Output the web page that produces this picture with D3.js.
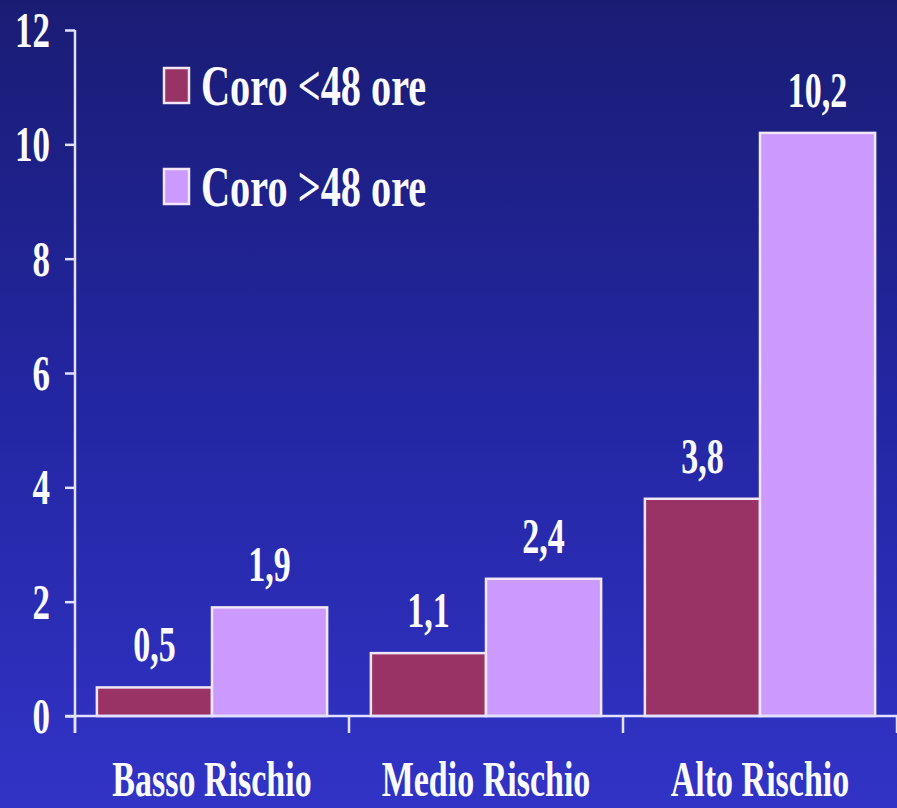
<!DOCTYPE html>
<html>
<head>
<meta charset="utf-8">
<script src="https://cdn.jsdelivr.net/npm/d3@7"></script>
<style>
html,body{margin:0;padding:0;background:#1c1e7a;}
svg{display:block;}
</style>
</head>
<body>
<svg id="chart" width="897" height="808"></svg>
<script>
const categories = ["Basso Rischio", "Medio Rischio", "Alto Rischio"];
const seriesNames = ["Coro <48 ore", "Coro >48 ore"];
const coroBefore48 = [0.5, 1.1, 3.8];
const coroAfter48 = [1.9, 2.4, 10.2];
const yTickValues = [0, 2, 4, 6, 8, 10, 12];
const seriesColors = ["#993366", "#cc99ff"];

const W = 897, H = 808;
const svg = d3.select("#chart");
const defs = svg.append("defs");
const grad = defs.append("linearGradient").attr("id", "bg").attr("x1", 0).attr("y1", 0).attr("x2", 0).attr("y2", 1);
grad.append("stop").attr("offset", "0%").attr("stop-color", "#1a1c74");
grad.append("stop").attr("offset", "50%").attr("stop-color", "#2326a2");
grad.append("stop").attr("offset", "100%").attr("stop-color", "#3133c6");
svg.append("rect").attr("width", W).attr("height", H).attr("fill", "url(#bg)");

const FONT = "'Liberation Serif','Times New Roman',serif";
const lineColor = "#e4e0ff";
const txtColor = "#fbfbff";

const x = d3.scaleBand().domain(categories).range([75, 897]).paddingInner(0).paddingOuter(0);
const xs = d3.scaleBand().domain(seriesNames).range([0, x.bandwidth()]).paddingInner(0).paddingOuter(0.19);
const y = d3.scaleLinear().domain([0, 12]).range([716, 30]);

const rows = categories.map((c, i) => ({cat: c, vals: [coroBefore48[i], coroAfter48[i]]}));
const fmt = v => d3.format(".1f")(v).replace(".", ",");

function stext(g, txt, px, py, size, anchor, sx) {
  return g.append("text")
    .attr("transform", `translate(${px},${py}) scale(${sx || 0.68},1)`)
    .attr("text-anchor", anchor)
    .attr("font-family", FONT).attr("font-weight", "bold")
    .attr("font-size", size).attr("fill", txtColor)
    .text(txt);
}

// Bars
const groups = svg.append("g").selectAll("g").data(rows).join("g")
  .attr("transform", d => `translate(${x(d.cat)},0)`);
groups.selectAll("rect").data(d => d.vals.map((v, j) => ({v, s: seriesNames[j], j}))).join("rect")
  .attr("x", d => xs(d.s))
  .attr("y", d => y(d.v))
  .attr("width", xs.bandwidth())
  .attr("height", d => y(0) - y(d.v))
  .attr("fill", d => seriesColors[d.j])
  .attr("stroke", "#f3e6f6").attr("stroke-width", 2.5);

// value labels
const lblG = svg.append("g");
rows.forEach(r => {
  r.vals.forEach((v, j) => {
    stext(lblG, fmt(v), x(r.cat) + xs(seriesNames[j]) + xs.bandwidth() / 2, y(v) - 26, 50, "middle");
  });
});

// Y axis
const yAxis = d3.axisLeft(y).tickValues(yTickValues).tickSize(10).tickFormat("");
const gy = svg.append("g").attr("transform", "translate(75,0)").call(yAxis);
gy.select(".domain").remove();
gy.selectAll(".tick line").attr("stroke", lineColor).attr("stroke-width", 2.5);
gy.append("line").attr("x1", 0).attr("x2", 0).attr("y1", y(12)).attr("y2", 733)
  .attr("stroke", lineColor).attr("stroke-width", 2.5);
yTickValues.forEach(t => {
  stext(svg, String(t), 50, y(t) + 17, 50, "end", 0.7);
});

// X axis
const gx = svg.append("g").attr("transform", `translate(0,${y(0)})`);
gx.append("line").attr("x1", 65).attr("x2", 897).attr("y1", 0).attr("y2", 0)
  .attr("stroke", lineColor).attr("stroke-width", 2.5);
const bounds = categories.map(c => x(c)).concat([x.range()[1]]);
gx.selectAll("line.tk").data(bounds).join("line").attr("class", "tk")
  .attr("x1", d => d).attr("x2", d => d).attr("y1", 0).attr("y2", 17)
  .attr("stroke", lineColor).attr("stroke-width", 2.5);
categories.forEach(c => {
  stext(svg, c, x(c) + x.bandwidth() / 2, 796, 50, "middle", 0.68);
});

// Legend
const leg = svg.append("g");
seriesNames.forEach((s, i) => {
  const top = 68 + i * 101;
  leg.append("rect").attr("x", 164).attr("y", top).attr("width", 25).attr("height", 35)
    .attr("fill", seriesColors[i]).attr("stroke", "#f3e6f6").attr("stroke-width", 2.5);
  stext(leg, s, 201, top + 37, 56, "start", 0.72);
});
</script>
</body>
</html>
